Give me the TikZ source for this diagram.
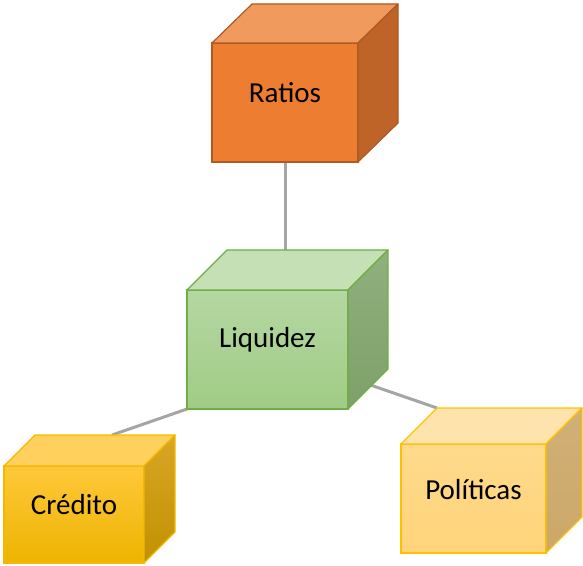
\documentclass[tikz,border=0pt]{standalone}
\usepackage{fontspec}
\setmainfont{Carlito}
\usetikzlibrary{calc}
\definecolor{connc}{HTML}{A5A5A5}
\definecolor{rFront}{HTML}{ED7D31}
\definecolor{rTop}{HTML}{F19A5E}
\definecolor{rSide}{HTML}{BF6428}
\definecolor{rEdge}{HTML}{AE5A21}
\definecolor{lFrontT}{HTML}{B5D7A2}
\definecolor{lFrontB}{HTML}{A0CC84}
\definecolor{lTop}{HTML}{C6E0B6}
\definecolor{lSideT}{HTML}{90B07E}
\definecolor{lSideB}{HTML}{7EA068}
\definecolor{lEdge}{HTML}{70AD47}
\definecolor{cFrontT}{HTML}{FFC83A}
\definecolor{cFrontB}{HTML}{EDB400}
\definecolor{cTop}{HTML}{FFD05E}
\definecolor{cSideT}{HTML}{D9A626}
\definecolor{cSideB}{HTML}{C29100}
\definecolor{cEdge}{HTML}{F5B800}
\definecolor{pFrontT}{HTML}{FFDA8C}
\definecolor{pFrontB}{HTML}{FFD47A}
\definecolor{pTop}{HTML}{FFE3AC}
\definecolor{pSideT}{HTML}{D1B078}
\definecolor{pSideB}{HTML}{CBA868}
\definecolor{pEdge}{HTML}{FFC000}
\begin{document}
\begin{tikzpicture}[x=1pt,y=1pt,
  frontface/.style={rectangle, inner sep=0pt, outer sep=0pt, line width=1.2pt},
  facepath/.style={line width=1.2pt, line join=round},
  conn/.style={draw=connc, line width=3pt},
  lbl/.style={font=\fontsize{29}{34}\selectfont, text=black, inner sep=0pt}]
\useasboundingbox (0,0) rectangle (583,565);

% front faces (named nodes) - placed first for coordinates, faces drawn later
\path node[frontface, minimum width=146pt, minimum height=119pt] (ratios) at (285,462.5) {};
\path node[frontface, minimum width=161pt, minimum height=119pt] (liq) at (267.5,215.5) {};
\path node[frontface, minimum width=140pt, minimum height=97pt] (cred) at (74,50.5) {};
\path node[frontface, minimum width=145pt, minimum height=109pt] (pol) at (473.5,66.5) {};

\coordinate (liqback) at ($(liq.north)+(0,40)$);
\coordinate (credback) at ($(cred.north)+(38,31)$);
\coordinate (polback) at ($(pol.north west)+(36,36)$);

% connectors
\draw[conn] (ratios.south) -- (ratios.south |- liqback);
\draw[conn] (liq.center) -- (polback);
\draw[conn] (credback) -- (liq.south west);

% Ratios cube
\node[frontface, minimum width=146pt, minimum height=119pt, fill=rFront, draw=rEdge] at (ratios.center) {};
\filldraw[facepath, fill=rTop, draw=rEdge] (ratios.north west) -- ++(40,39) -- ++(146,0) -- (ratios.north east) -- cycle;
\filldraw[facepath, fill=rSide, draw=rEdge] (ratios.north east) -- ++(40,39) -- ++(0,-119) -- (ratios.south east) -- cycle;
\node[lbl] (ratiosT) at ($(ratios.center)+(0,10)$) {Ratios};

% Liquidez cube
\node[frontface, minimum width=161pt, minimum height=119pt, top color=lFrontT, bottom color=lFrontB, draw=lEdge] at (liq.center) {};
\filldraw[facepath, fill=lTop, draw=lEdge] (liq.north west) -- ++(40,40) -- ++(161,0) -- (liq.north east) -- cycle;
\shade[top color=lSideT, bottom color=lSideB] (liq.north east) -- ++(40,40) -- ++(0,-119) -- (liq.south east) -- cycle;
\draw[facepath, draw=lEdge] (liq.north east) -- ++(40,40) -- ++(0,-119) -- (liq.south east) -- cycle;
\node[lbl] (liqT) at ($(liq.center)+(0,10)$) {Liquidez};

% Credito cube
\node[frontface, minimum width=140pt, minimum height=97pt, top color=cFrontT, bottom color=cFrontB, draw=cEdge] at (cred.center) {};
\filldraw[facepath, fill=cTop, draw=cEdge] (cred.north west) -- ++(31,31) -- ++(140,0) -- (cred.north east) -- cycle;
\shade[top color=cSideT, bottom color=cSideB] (cred.north east) -- ++(31,31) -- ++(0,-97) -- (cred.south east) -- cycle;
\draw[facepath, draw=cEdge] (cred.north east) -- ++(31,31) -- ++(0,-97) -- (cred.south east) -- cycle;
\node[lbl] (credT) at ($(cred.center)+(0,10)$) {Crédito};

% Politicas cube
\node[frontface, minimum width=145pt, minimum height=109pt, top color=pFrontT, bottom color=pFrontB, draw=pEdge] at (pol.center) {};
\filldraw[facepath, fill=pTop, draw=pEdge] (pol.north west) -- ++(36,36) -- ++(145,0) -- (pol.north east) -- cycle;
\shade[top color=pSideT, bottom color=pSideB] (pol.north east) -- ++(36,36) -- ++(0,-109) -- (pol.south east) -- cycle;
\draw[facepath, draw=pEdge] (pol.north east) -- ++(36,36) -- ++(0,-109) -- (pol.south east) -- cycle;
\node[lbl] (polT) at ($(pol.center)+(0,9)$) {Políticas};
\end{tikzpicture}
\end{document}
